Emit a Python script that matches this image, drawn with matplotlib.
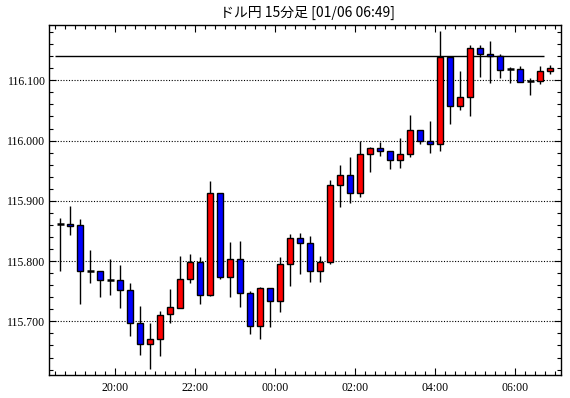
import numpy as np
import pandas as pd
import matplotlib
matplotlib.use('Agg')
import matplotlib.pyplot as plt
from matplotlib.ticker import MultipleLocator, FixedLocator

# 15 minute candles, USD/JPY
times = pd.date_range('2017-01-05 18:30', periods=50, freq='15min')
opens = [115.861, 115.862, 115.860, 115.784, 115.784, 115.769, 115.769, 115.752, 115.697, 115.663,
         115.670, 115.712, 115.723, 115.770, 115.798, 115.743, 115.913, 115.773, 115.803, 115.747,
         115.693, 115.755, 115.733, 115.795, 115.838, 115.830, 115.783, 115.798, 115.927, 115.943,
         115.913, 115.977, 115.988, 115.983, 115.968, 115.978, 116.018, 115.999, 115.994, 116.139,
         116.057, 116.072, 116.153, 116.143, 116.140, 116.118, 116.118, 116.099, 116.099, 116.115]
highs = [115.871, 115.892, 115.870, 115.819, 115.784, 115.804, 115.794, 115.764, 115.726, 115.697,
         115.717, 115.754, 115.809, 115.811, 115.806, 115.933, 115.913, 115.831, 115.834, 115.751,
         115.757, 115.755, 115.807, 115.845, 115.847, 115.842, 115.809, 115.934, 115.959, 115.972,
         116.000, 115.990, 115.997, 115.983, 116.004, 116.042, 116.018, 116.032, 116.182, 116.141,
         116.116, 116.159, 116.159, 116.165, 116.143, 116.122, 116.123, 116.103, 116.124, 116.125]
lows = [115.783, 115.844, 115.728, 115.763, 115.741, 115.743, 115.723, 115.675, 115.645, 115.621,
        115.643, 115.698, 115.723, 115.763, 115.728, 115.742, 115.771, 115.741, 115.724, 115.679,
        115.671, 115.691, 115.715, 115.759, 115.778, 115.766, 115.766, 115.796, 115.889, 115.896,
        115.906, 115.948, 115.974, 115.953, 115.954, 115.973, 115.994, 115.979, 115.982, 116.028,
        116.050, 116.040, 116.106, 116.095, 116.104, 116.095, 116.097, 116.076, 116.094, 116.111]
closes = [115.861, 115.859, 115.783, 115.784, 115.768, 115.769, 115.752, 115.697, 115.663, 115.670,
          115.711, 115.724, 115.770, 115.798, 115.743, 115.913, 115.773, 115.803, 115.747, 115.693,
          115.755, 115.733, 115.795, 115.838, 115.830, 115.783, 115.798, 115.927, 115.943, 115.913,
          115.977, 115.988, 115.983, 115.968, 115.978, 116.018, 116.000, 115.994, 116.139, 116.057,
          116.072, 116.153, 116.143, 116.140, 116.117, 116.118, 116.098, 116.099, 116.115, 116.120]
ref_level = 116.140
title = 'ドル円 15分足 [01/06 06:49]'

o = np.array(opens)
c = np.array(closes)
x = np.arange(len(o))

fig = plt.figure(figsize=(5.7, 3.98), dpi=100)
ax = fig.add_axes([49 / 570, 23 / 398, 512 / 570, 350.5 / 398])

# gridlines
for lv in np.arange(115.7, 116.15, 0.1):
    ax.axhline(lv, color='black', lw=0.8, ls=(0, (1, 1.5)), zorder=1)

ax.hlines(ref_level, -0.5, 48.4, color='black', lw=1.0, zorder=2)

# wicks
ax.vlines(x, lows, highs, color='black', lw=1.0, zorder=3)

# bodies: red = up, blue = down
doji = o == c
body = ~doji
cols = np.where(c > o, '#ff0000', '#0000ff')
ax.bar(x[body], (c - o)[body], bottom=o[body], width=0.62, color=cols[body],
       edgecolor='black', linewidth=1.0, zorder=4)
ax.hlines(o[doji], x[doji] - 0.33, x[doji] + 0.33, color='black', lw=1.8, zorder=4)

ax.set_xlim(-1.13, 50.07)
ax.set_ylim(115.611, 116.1926)

# y axis ticks
ax.yaxis.set_major_locator(FixedLocator(np.arange(115.7, 116.15, 0.1)))
ax.yaxis.set_minor_locator(MultipleLocator(0.02))
ax.set_yticklabels(['%.3f' % v for v in np.arange(115.7, 116.15, 0.1)])

# x axis ticks: every candle, labels every 2 hours
major_pos = [i - 0.5 for i, t in enumerate(times) if t.minute == 0 and t.hour % 2 == 0]
major_lab = [times[i].strftime('%H:%M') for i, t in enumerate(times) if t.minute == 0 and t.hour % 2 == 0]
ax.xaxis.set_major_locator(FixedLocator(major_pos))
ax.set_xticklabels(major_lab)
ax.xaxis.set_minor_locator(FixedLocator(np.arange(-0.5, 50, 1.0)))

ax.tick_params(axis='both', which='both', direction='in', top=True, right=True,
               color='black', width=0.8)
ax.tick_params(axis='both', which='major', length=5)
ax.tick_params(axis='both', which='minor', length=3)
ax.tick_params(axis='y', which='major', pad=2.5)
ax.tick_params(axis='x', which='major', pad=5)

for lab in ax.get_xticklabels() + ax.get_yticklabels():
    lab.set_family(['Liberation Serif', 'DejaVu Serif'])
    lab.set_fontsize(8.5)

for sp in ax.spines.values():
    sp.set_linewidth(1.0)
    sp.set_color('black')

fig.text(308 / 570, 1 - 13 / 398, title, ha='center', va='center', fontsize=10,
         family=['Noto Sans CJK JP', 'DejaVu Sans'])

fig.savefig('out.png', dpi=100)
